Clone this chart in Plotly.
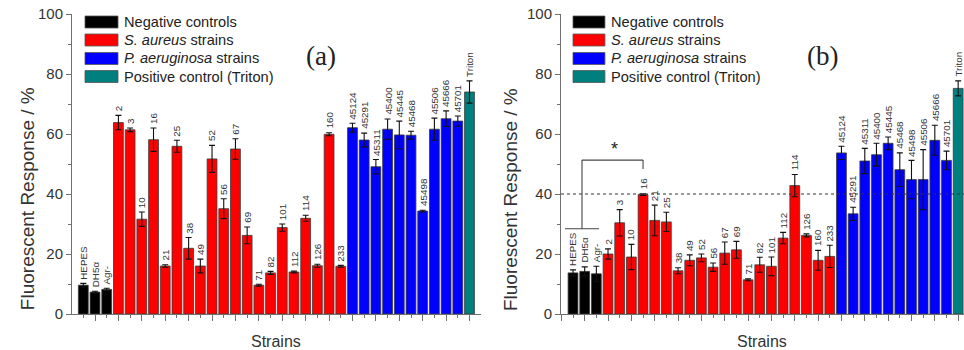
import plotly.graph_objects as go

# ---------------- data ----------------
categories = ["HEPES", "DH5α", "Agr-",
              "2", "3", "10", "16", "21", "25", "38", "49", "52", "56", "67", "69",
              "71", "82", "101", "112", "114", "126", "160", "233",
              "45124", "45291", "45311", "45400", "45445", "45468", "45498", "45506",
              "45666", "45701", "Triton"]
groups = (["neg"] * 3 + ["sa"] * 20 + ["pa"] * 10 + ["pos"])

values_a = [9.6, 7.3, 8.2,
            63.8, 61.4, 31.6, 58.1, 16.0, 55.9, 21.9, 16.0, 51.7, 35.1, 55.0, 26.2,
            9.6, 13.7, 28.8, 14.0, 31.9, 16.1, 59.9, 15.9,
            62.1, 58.0, 49.1, 61.6, 59.7, 59.6, 34.3, 61.6, 65.1, 64.3, 74.0]
err_a = [0.6, 0.3, 0.4,
         2.4, 0.6, 2.4, 3.9, 0.4, 2.0, 3.6, 2.3, 4.5, 3.3, 3.4, 2.8,
         0.3, 0.5, 1.2, 0.3, 1.0, 0.5, 0.5, 0.3,
         1.5, 2.3, 2.4, 3.4, 4.6, 1.3, 0.3, 3.7, 2.6, 1.7, 3.7]

values_b = [13.7, 14.2, 13.4,
            20.0, 30.4, 19.0, 39.8, 31.2, 30.7, 14.4, 17.9, 18.7, 15.6, 20.3, 21.4,
            11.4, 16.4, 15.9, 25.3, 42.8, 26.2, 17.9, 19.2,
            53.7, 33.4, 51.0, 53.1, 56.9, 48.1, 44.8, 44.8, 57.9, 51.2, 75.2]
err_b = [1.0, 1.5, 2.5,
         1.7, 4.4, 4.2, 0.3, 5.1, 3.2, 1.0, 1.8, 1.3, 1.4, 3.7, 2.8,
         0.3, 2.5, 3.1, 1.9, 3.7, 0.5, 3.3, 3.7,
         2.2, 2.2, 4.2, 3.8, 2.1, 5.6, 6.4, 10.0, 5.0, 3.1, 2.5]

group_names = {"neg": "Negative controls",
               "sa": "<i>S. aureus</i> strains",
               "pa": "<i>P. aeruginosa</i> strains",
               "pos": "Positive control (Triton)"}
group_colors = {"neg": "#000000", "sa": "#FF0000", "pa": "#0000FF", "pos": "#007F7F"}
group_order = ["neg", "sa", "pa", "pos"]

threshold_b = 40
FONT = "Liberation Sans, Arial, sans-serif"

fig = go.Figure()

panels = [("x", "y", values_a, err_a), ("x2", "y2", values_b, err_b)]
for xa, ya, vals, errs in panels:
    for g in group_order:
        idx = [i for i, gg in enumerate(groups) if gg == g]
        fig.add_trace(go.Bar(
            x=idx, y=[vals[i] for i in idx],
            error_y=dict(type="data", array=[errs[i] for i in idx],
                         color="#111111", thickness=1.1, width=3),
            marker=dict(color=group_colors[g], line=dict(color="#3a3a3a", width=0.8)),
            width=0.84, xaxis=xa, yaxis=ya, showlegend=False,
            hoverinfo="x+y"))
    for i, cat in enumerate(categories):
        fig.add_annotation(x=i, y=vals[i] + errs[i], xref=xa, yref=ya,
                           text=cat, textangle=-90, showarrow=False,
                           yanchor="bottom", xanchor="center", yshift=2,
                           font=dict(size=9.8, color="#333333", family=FONT))

axis_common = dict(showline=True, linecolor="#707070", linewidth=1,
                   showgrid=False, zeroline=False)

fig.update_layout(
    width=964, height=350,
    margin=dict(l=72, r=0, t=14, b=36),
    paper_bgcolor="white", plot_bgcolor="white",
    bargap=0.1,
    font=dict(family=FONT, color="#333333"),
    xaxis=dict(domain=[0, 0.4585], range=[-0.966, 33.98], anchor="y",
               ticks="outside", ticklen=6, tickcolor="#707070", tick0=1, dtick=2,
               showticklabels=False,
               minor=dict(ticks="outside", ticklen=3, dtick=1, tick0=0, tickcolor="#707070"),
               **axis_common),
    xaxis2=dict(domain=[0.5482, 1], range=[-1.03, 33.5], anchor="y2",
                ticks="outside", ticklen=6, tickcolor="#707070", tick0=1, dtick=2,
                showticklabels=False,
                minor=dict(ticks="outside", ticklen=3, dtick=1, tick0=0, tickcolor="#707070"),
                **axis_common),
    yaxis=dict(domain=[0, 1], range=[0, 100], anchor="x",
               tickvals=[0, 20, 40, 60, 80, 100], ticks="outside", ticklen=5,
               tickcolor="#707070", tickfont=dict(size=15, color="#333333"),
               minor=dict(ticks="outside", ticklen=3, dtick=10, tickcolor="#707070"),
               **axis_common),
    yaxis2=dict(domain=[0, 1], range=[0, 100], anchor="x2",
                tickvals=[0, 20, 40, 60, 80, 100], ticks="outside", ticklen=5,
                tickcolor="#707070", tickfont=dict(size=15, color="#333333"),
                minor=dict(ticks="outside", ticklen=3, dtick=10, tickcolor="#707070"),
                **axis_common),
)

# axis titles
for xp in [-0.0504, 0.491]:
    fig.add_annotation(x=xp, y=0.383, xref="paper", yref="paper",
                       text="Fluorescent Response / %", textangle=-90, showarrow=False,
                       xanchor="center", yanchor="middle",
                       font=dict(size=19, color="#333333", family=FONT))
for xp in [0.2287, 0.7735]:
    fig.add_annotation(x=xp, y=-0.093, xref="paper", yref="paper",
                       text="Strains", showarrow=False, xanchor="center", yanchor="middle",
                       font=dict(size=16, color="#333333", family=FONT))

# panel labels
fig.add_annotation(x=0.609, y=0.917, xref="x domain", yref="y domain", text="(a)",
                   showarrow=False, font=dict(size=27, color="#222222",
                                              family="Liberation Serif, Times New Roman, serif"))
fig.add_annotation(x=0.648, y=0.917, xref="x2 domain", yref="y2 domain", text="(b)",
                   showarrow=False, font=dict(size=27, color="#222222",
                                              family="Liberation Serif, Times New Roman, serif"))

# custom legends
rows_px = [(16, 28), (34, 46), (52.5, 64.5), (70.5, 82.5)]
legend_specs = [("x", "y", 0.0318, 0.1125, 0.122), ("x2", "y2", 0.0298, 0.109, 0.119)]
for xa, ya, bx0, bx1, tx in legend_specs:
    for g, (p0, p1) in zip(group_order, rows_px):
        y0 = (314 - p1) / 300
        y1 = (314 - p0) / 300
        fig.add_shape(type="rect", xref=f"{xa} domain", yref=f"{ya} domain",
                      x0=bx0, x1=bx1, y0=y0, y1=y1,
                      fillcolor=group_colors[g], line=dict(color="#555555", width=0.8))
        fig.add_annotation(x=tx, y=(y0 + y1) / 2, xref=f"{xa} domain", yref=f"{ya} domain",
                           text=group_names[g], showarrow=False, xanchor="left",
                           yanchor="middle", font=dict(size=14.6, color="#222222", family=FONT))

# threshold dotted line in (b)
fig.add_shape(type="line", xref="x2 domain", yref="y2", x0=0, x1=1,
              y0=threshold_b, y1=threshold_b,
              line=dict(color="#333333", width=1.2, dash="dot"))

# significance bracket in (b): negative controls vs strain 16
neg_idx = [i for i, g in enumerate(groups) if g == "neg"]
s16 = categories.index("16")
neg_c = 0.77
br_low, br_top, br_right_end = 28.4, 51.3, 48.3
bcol = dict(color="#444444", width=1.1)
fig.add_shape(type="line", xref="x2", yref="y2", x0=neg_idx[0] - 0.69, x1=neg_idx[-1] + 0.23,
              y0=br_low, y1=br_low, line=bcol)
fig.add_shape(type="line", xref="x2", yref="y2", x0=neg_c, x1=neg_c,
              y0=br_low, y1=br_top, line=bcol)
fig.add_shape(type="line", xref="x2", yref="y2", x0=neg_c, x1=s16,
              y0=br_top, y1=br_top, line=bcol)
fig.add_shape(type="line", xref="x2", yref="y2", x0=s16, x1=s16,
              y0=br_top, y1=br_right_end, line=bcol)
fig.add_annotation(x=(neg_c + s16) / 2 + 0.2, y=br_top + 3.8, xref="x2", yref="y2",
                   text="*", showarrow=False, font=dict(size=18, color="#222222", family=FONT))

fig.write_html("out.html", config={"displayModeBar": False},
               post_script="document.body.style.margin='0';document.body.style.overflow='hidden';")
